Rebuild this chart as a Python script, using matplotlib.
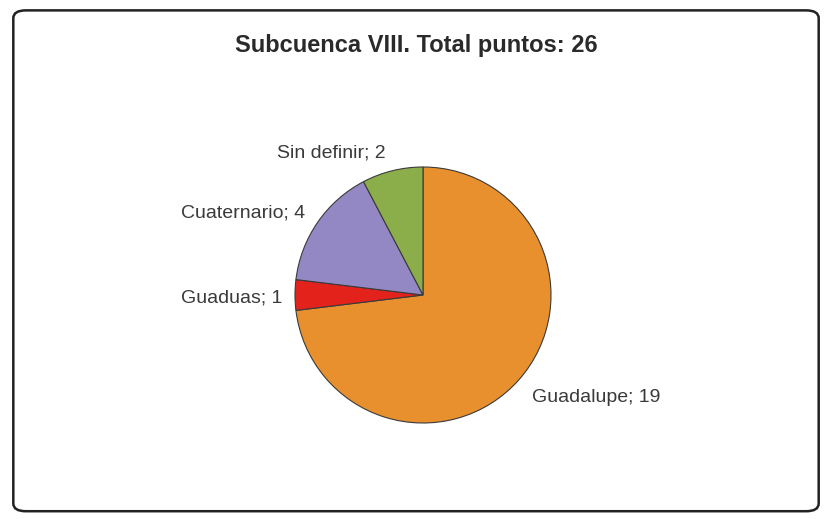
import matplotlib.pyplot as plt
from matplotlib.patches import FancyBboxPatch

plt.rcParams['font.family'] = ['Liberation Sans', 'DejaVu Sans']

# data
categorias = ['Guadalupe', 'Guaduas', 'Cuaternario', 'Sin definir']
puntos = [19, 1, 4, 2]
colores = ['#E8902E', '#E3221B', '#9488C4', '#8BAD4A']
titulo = 'Subcuenca VIII. Total puntos: 26'

fig = plt.figure(figsize=(8.32, 5.19), dpi=100)

# rounded frame of the chart area
marco = FancyBboxPatch((0.016, 0.015), 0.968, 0.965,
                       boxstyle='round,pad=0,rounding_size=0.015',
                       transform=fig.transFigure, facecolor='none',
                       edgecolor='#222222', linewidth=1.8, zorder=-1)
fig.patches.append(marco)

fig.text(0.5, 0.913, titulo, ha='center', va='center',
         fontsize=17, fontweight='bold', color='#2a2a2a')

ax = fig.add_axes([(423 - 128) / 832, (519 - 295 - 128) / 519, 256 / 832, 256 / 519])
etiquetas = ['%s; %d' % (c, v) for c, v in zip(categorias, puntos)]
wedges, texts = ax.pie(puntos, colors=colores, startangle=90, counterclock=False,
                       labels=etiquetas, labeldistance=1.15,
                       wedgeprops={'edgecolor': '#3a3a3a', 'linewidth': 0.8},
                       textprops={'fontsize': 14, 'color': '#3a3a3a'})
ax.set_xlim(-1, 1)
ax.set_ylim(-1, 1)
ax.set_aspect('equal')

# place labels like the original
pos = [(0.85, -0.80, 'left'), (-1.10, -0.02, 'right'),
       (-0.92, 0.64, 'right'), (-0.72, 1.11, 'center')]
for t, (x, y, ha) in zip(texts, pos):
    t.set_position((x, y))
    t.set_ha(ha)
    t.set_va('center')
    t.set_clip_on(False)

plt.savefig('out.png', dpi=100)
